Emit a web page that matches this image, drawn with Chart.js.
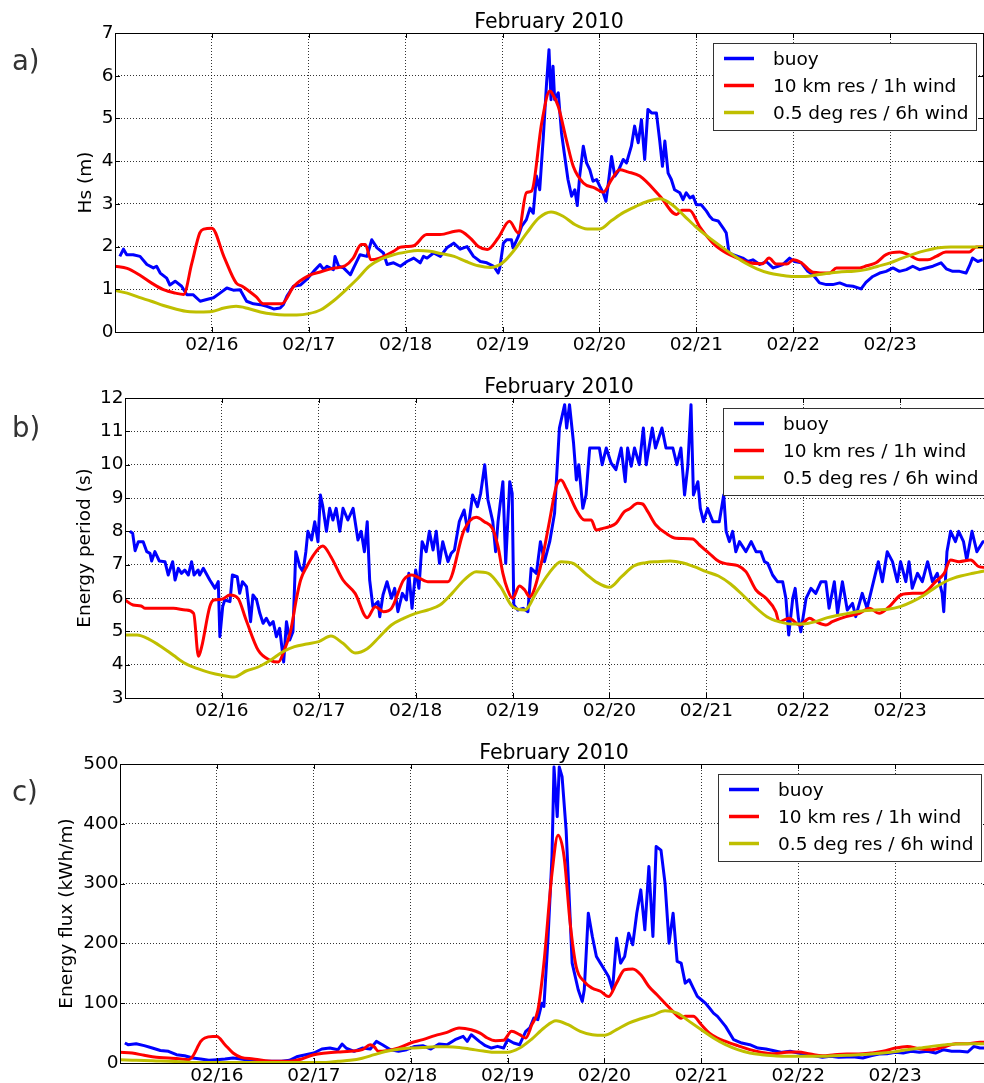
<!DOCTYPE html>
<html>
<head>
<meta charset="utf-8">
<script src="https://cdn.jsdelivr.net/npm/chart.js@4.4.1/dist/chart.umd.min.js"></script>
<style>
  body { margin: 0; background: #fff; width: 984px; height: 1083px; overflow: hidden; position: relative; }
  canvas { position: absolute; left: 0; }
</style>
</head>
<body>
<canvas id="chart-a"></canvas>
<canvas id="chart-b"></canvas>
<canvas id="chart-c"></canvas>
<script>
// x values are hours since 02/15 00:00 (February 2010)
const dayHours = [24, 48, 72, 96, 120, 144, 168, 192];
const dayLabels = ['02/16', '02/17', '02/18', '02/19', '02/20', '02/21', '02/22', '02/23'];
const seriesNames = ['buoy', '10 km res / 1h wind', '0.5 deg res / 6h wind'];
const seriesColors = ['#0000ff', '#ff0000', '#bfbf00'];

// the 0.5 deg model is read every 3 hours
const coarseHours = Array.from({length: 72}, (_, i) => i * 3).concat([215]);

// a) Hs (m)
const hsBuoy = [[1.2,1.77],[2.1,1.94],[2.9,1.81],[4.5,1.81],[6.2,1.77],[7.9,1.58],[9.5,1.5],[10.3,1.54],[11.2,1.38],[12.8,1.26],[13.6,1.1],[14.9,1.19],[16.5,1.07],[17.8,0.87],[19.4,0.87],[21.1,0.72],[22.7,0.76],[24.4,0.8],[26,0.91],[27.7,1.03],[29.3,0.98],[31,0.99],[32.6,0.72],[34.3,0.66],[36,0.64],[37.6,0.6],[39.3,0.54],[40.9,0.56],[41.7,0.64],[42.6,0.84],[44.2,1.07],[45.9,1.1],[47.5,1.23],[49.2,1.42],[50.8,1.58],[51.7,1.46],[52.5,1.54],[54.1,1.46],[54.5,1.77],[55.4,1.54],[56.6,1.5],[58.3,1.34],[59.1,1.5],[60.7,1.81],[62.4,1.77],[63.6,2.16],[64.9,1.97],[66.5,1.85],[67.4,1.58],[69,1.62],[70.7,1.54],[72.3,1.65],[74,1.73],[75.6,1.62],[76.4,1.77],[77.3,1.73],[78.9,1.85],[80.6,1.77],[82.2,1.97],[83.9,2.08],[85.5,1.94],[87.2,2.0],[88.8,1.77],[90.5,1.65],[92.1,1.62],[93.8,1.54],[94.9,1.38],[95.3,1.5],[96.2,2.08],[97,2.16],[98.2,2.16],[98.6,1.97],[99.9,2.24],[100.7,2.47],[101.9,2.63],[102.8,2.9],[103.6,2.78],[104.4,3.65],[105.2,3.33],[106.1,4.58],[106.9,5.83],[107.5,6.61],[108,5.44],[108.5,6.22],[108.9,5.44],[109.8,5.6],[110.6,4.66],[111.4,4.11],[112.2,3.57],[113.1,3.18],[113.9,3.33],[114.5,2.96],[115.1,3.65],[116,4.35],[116.8,3.96],[117.6,3.8],[118.4,3.53],[119.3,3.57],[120.1,3.41],[120.9,3.26],[121.6,3.06],[122.1,3.41],[123,4.11],[123.8,3.65],[124.6,3.76],[125.9,4.04],[126.7,3.96],[127.9,4.35],[128.7,4.82],[129.6,4.43],[130.4,4.97],[131.2,4.04],[132,5.21],[132.9,5.13],[134.1,5.13],[134.9,4.5],[135.6,3.88],[136.2,4.47],[137,3.72],[137.8,3.57],[138.6,3.33],[139.9,3.26],[140.7,3.1],[141.5,3.26],[142.4,3.14],[143.2,3.18],[144,2.98],[145.2,2.98],[146.5,2.83],[147.3,2.71],[148.1,2.63],[149.4,2.6],[150.6,2.44],[151.4,2.32],[152.1,1.85],[153.1,1.81],[154.3,1.77],[155.5,1.73],[156.8,1.65],[158,1.69],[159.7,1.58],[161.3,1.65],[163,1.5],[164.2,1.54],[165.4,1.58],[167.1,1.73],[168.3,1.65],[170,1.62],[171.6,1.42],[172.9,1.34],[174.5,1.15],[176.2,1.11],[177.8,1.11],[179.5,1.15],[181.1,1.09],[182.8,1.07],[184.8,1.01],[186,1.16],[187.7,1.3],[189.4,1.38],[191,1.42],[192.7,1.5],[194.3,1.42],[196,1.46],[197.6,1.54],[199.3,1.46],[200.9,1.5],[202.6,1.54],[204.6,1.62],[205.9,1.48],[207.5,1.42],[209.2,1.42],[210.8,1.38],[211.6,1.54],[212.4,1.73],[213.7,1.65],[214.9,1.69]];
const hsFine = [[0,1.54],[3,1.49],[6,1.34],[9,1.15],[12,0.99],[15,0.91],[17,0.88],[19,1.6],[21,2.32],[22,2.41],[24,2.43],[27,1.76],[30,1.15],[31.5,1.07],[33,0.97],[35,0.82],[36.7,0.66],[41.3,0.66],[44.3,1.07],[48,1.32],[51,1.41],[54,1.49],[57,1.55],[59,1.73],[61,2.05],[62,2.05],[63.4,1.69],[65.5,1.73],[69,1.89],[70.5,1.98],[72,2.0],[74,2.02],[77.2,2.28],[80.5,2.28],[85.2,2.37],[88,2.2],[90,2.0],[92.2,1.93],[94.9,2.2],[97.7,2.59],[99.9,2.32],[101.9,3.26],[103.2,3.3],[105.7,4.9],[107.7,5.64],[108.2,5.6],[109.8,5.28],[111.8,4.5],[113.5,3.88],[116,3.49],[118.9,3.37],[120.9,3.27],[123,3.57],[125,3.8],[127,3.75],[130,3.65],[135,3.18],[139.1,2.75],[140.4,2.85],[142.3,2.85],[144.8,2.47],[148.1,2.08],[151.4,1.85],[154.7,1.71],[157.1,1.62],[160.4,1.6],[162,1.73],[163.8,1.59],[166.4,1.59],[168,1.69],[170,1.62],[172.9,1.4],[177,1.38],[178.7,1.5],[184.5,1.5],[186.2,1.55],[188.5,1.62],[191,1.81],[194.4,1.87],[196.5,1.81],[199.3,1.69],[201.3,1.69],[203.4,1.77],[205.8,1.87],[211.6,1.87],[213.3,1.99],[215,1.99]];
const hsCoarse = [0.97,0.91,0.81,0.72,0.62,0.54,0.48,0.47,0.48,0.56,0.6,0.55,0.47,0.42,0.40,0.40,0.43,0.52,0.72,0.97,1.24,1.54,1.71,1.81,1.87,1.91,1.89,1.83,1.77,1.65,1.55,1.51,1.62,1.93,2.32,2.67,2.81,2.71,2.51,2.41,2.41,2.61,2.8,2.94,3.06,3.12,2.98,2.72,2.45,2.22,2.01,1.81,1.62,1.48,1.38,1.33,1.30,1.30,1.34,1.38,1.41,1.42,1.46,1.54,1.62,1.73,1.83,1.91,1.97,1.99,1.99,1.99,1.99];

// b) Energy period (s)
const teBuoy = [[1.2,8.0],[1.9,7.94],[2.5,7.42],[3.3,7.69],[4.5,7.69],[5.4,7.39],[6.2,7.34],[6.6,7.11],[7.4,7.39],[8.5,7.11],[9.9,7.09],[10.7,6.69],[11.8,7.09],[12.4,6.54],[13.2,6.89],[14,6.74],[14.8,6.84],[15.7,6.69],[16.5,7.09],[17.1,6.69],[18.1,6.84],[18.5,6.69],[19.4,6.89],[21,6.54],[22.3,6.29],[23.1,6.49],[23.5,4.84],[24.2,5.74],[24.7,5.94],[26,5.89],[26.6,6.69],[27.8,6.64],[28.4,6.14],[29.1,6.49],[30.1,6.34],[31.1,5.29],[31.7,6.09],[32.6,5.94],[33.4,5.54],[34.2,5.24],[35,5.39],[35.9,5.19],[36.7,5.29],[37.5,4.84],[38.3,5.09],[39.3,4.08],[40,5.29],[40.8,4.74],[41.6,4.99],[42.3,7.39],[43.3,6.94],[44.1,6.79],[44.8,7.39],[45.3,8.0],[46.2,7.74],[47,8.29],[47.8,7.69],[48.4,9.09],[49,8.74],[49.9,8.0],[50.7,8.69],[51.5,8.34],[52.3,8.69],[53.2,8.0],[54,8.69],[55.2,8.34],[56.5,8.69],[57.7,7.74],[58.5,8.0],[59.3,7.39],[60,8.29],[60.6,6.54],[61.4,5.74],[62.7,5.89],[63.1,5.44],[63.9,6.09],[64.9,6.49],[66,5.99],[66.8,6.29],[67.6,5.59],[68.7,6.14],[69.7,5.94],[70.3,6.74],[71.1,5.69],[72,6.84],[72.8,6.29],[73.6,7.69],[74.6,7.39],[75.4,8.0],[76.3,7.44],[77.1,8.0],[77.9,7.04],[78.7,7.69],[80,7.09],[80.8,7.34],[81.6,7.44],[82.8,8.29],[84,8.64],[84.9,8.0],[86.1,9.09],[87.3,8.74],[88.1,9.14],[89.1,10.0],[89.9,8.94],[91.1,8.29],[91.8,7.39],[92.4,8.29],[93.6,9.49],[94.3,7.04],[95.3,9.49],[95.9,9.14],[96.3,5.79],[97.3,5.64],[98.6,5.69],[99.8,5.59],[100.6,6.89],[101.9,6.74],[102.9,7.69],[103.9,7.09],[105.2,7.69],[106.4,8.54],[107.6,11.1],[108.9,11.8],[109.4,11.1],[110.1,11.8],[111.1,10.65],[111.8,9.54],[112.4,10.0],[113.4,8.69],[114.2,9.09],[115.1,10.5],[116.3,10.5],[117.5,10.5],[118.2,10.0],[119.2,10.5],[120.4,10.05],[121.6,9.85],[122.9,10.5],[123.9,9.49],[124.5,10.5],[125.4,9.95],[126.2,10.5],[127.4,10.0],[128.4,11.1],[129.1,10.0],[130.6,11.1],[131.4,10.5],[133,11.1],[134,10.5],[135.7,10.5],[136.7,10.0],[137.7,10.5],[138.6,9.09],[139.4,9.95],[140.2,11.8],[140.8,9.09],[141.9,9.49],[142.5,8.69],[143.3,8.29],[144.3,8.69],[145.6,8.29],[147.2,8.29],[148.3,9.09],[148.9,8.0],[149.7,7.69],[150.5,8.0],[151.3,7.39],[152.2,7.69],[153.8,7.39],[155.1,7.69],[156.3,7.39],[157.5,7.39],[158.4,7.09],[159.2,7.04],[160.4,6.69],[161.6,6.49],[162.9,6.49],[163.7,5.99],[164.4,4.89],[165.4,5.99],[166,6.29],[166.8,5.39],[167.4,4.99],[168.7,5.99],[169.9,6.29],[171.1,6.14],[172.4,6.49],[173.6,6.49],[174.4,5.69],[175.7,6.49],[176.5,5.54],[177.7,6.49],[178.9,5.64],[180.2,5.84],[181,5.44],[182.6,6.14],[183.8,5.69],[185.1,6.34],[186.6,7.09],[187.6,6.49],[188.8,7.39],[190.1,7.09],[191.3,6.49],[192.1,7.09],[193.4,6.49],[194.2,7.09],[195,6.29],[196.3,6.74],[197.5,6.49],[198.8,7.09],[200,6.49],[201.2,6.74],[202.4,6.14],[202.8,5.59],[203.6,7.39],[204.5,8.0],[205.7,7.69],[206.5,8.0],[207.7,7.69],[208.5,7.14],[209.8,8.0],[211,7.39],[212.5,7.69],[214,7.69],[215,7.5]];
const teFine = [[0,5.94],[2,5.79],[4,5.76],[5,5.69],[9,5.69],[12,5.69],[15,5.64],[17,5.54],[18.2,4.25],[19,4.54],[21,5.74],[22,5.94],[24,5.96],[26,6.09],[28,5.99],[30,5.34],[33,4.43],[36,4.13],[38,4.08],[39.5,4.45],[41,5.0],[42.5,6.0],[43.5,6.54],[45,6.94],[48,7.49],[49,7.56],[51,7.24],[54,6.54],[57,6.14],[60,5.41],[62,5.74],[64,5.59],[66,5.69],[69,6.54],[71,6.69],[75,6.49],[80,6.49],[84,8.04],[87,8.42],[89,8.29],[91,8.09],[92.4,7.54],[93.6,6.74],[94.8,6.24],[96,5.99],[97.7,6.36],[99,6.24],[100.2,6.04],[101,6.14],[103.1,7.04],[105.2,8.34],[106.8,9.34],[108,9.54],[109.3,9.29],[111.8,8.64],[113.8,8.34],[115.5,8.34],[116.7,8.04],[118.4,8.09],[120,8.14],[121.6,8.24],[123.7,8.59],[124.9,8.67],[127,8.84],[128.2,8.82],[129.5,8.59],[131.5,8.19],[134,7.94],[136.5,7.79],[140.6,7.77],[142.3,7.59],[144.7,7.34],[147.2,7.09],[149.3,7.02],[151.8,6.97],[153.8,6.79],[156.3,6.24],[158.8,5.99],[161.2,5.59],[162,5.29],[164.5,5.39],[167.1,5.19],[169.6,5.39],[171.1,5.29],[173.6,5.19],[175.2,5.29],[178.6,5.44],[181.9,5.54],[184.4,5.69],[186.8,5.54],[189.3,5.74],[192.2,6.09],[195.1,6.14],[197.5,6.14],[200.8,6.49],[202.9,6.74],[204.5,7.14],[206.6,7.09],[209.5,7.14],[211.5,6.94],[215,6.9]];
const teCoarse = [4.89,4.89,4.76,4.54,4.28,4.03,3.88,3.76,3.68,3.63,3.81,3.93,4.13,4.38,4.54,4.62,4.69,4.86,4.64,4.35,4.48,4.83,5.19,5.39,5.54,5.64,5.79,6.14,6.54,6.79,6.74,6.34,5.74,5.64,6.19,6.74,7.09,7.04,6.74,6.46,6.32,6.64,6.96,7.06,7.09,7.11,7.06,6.94,6.79,6.66,6.42,6.09,5.74,5.44,5.29,5.22,5.22,5.29,5.41,5.49,5.56,5.62,5.64,5.66,5.74,5.89,6.09,6.34,6.54,6.66,6.74,6.81,6.84];

// c) Energy flux (kWh/m)
const fluxBuoy = [[1.2,33.4],[2,30.6],[4,32.3],[6,29],[8,25],[10,21],[12,19.5],[14,13.9],[16,12.2],[18,8.4],[20,6.7],[22,4.5],[24,5.6],[26,6.7],[28,8.4],[30,6.7],[32,4.5],[36,2.8],[40,2.8],[42,4.5],[44,11],[46,13.9],[48,16.7],[50,23.4],[52,25],[54,22.3],[55,31.7],[56,25],[58,19.5],[60,25],[62,23.4],[63.5,36.2],[65,30.6],[67,22.3],[69,19.5],[71,22.3],[73,27.8],[75,29],[77,23.4],[79,31.7],[81,30.6],[83,39],[85,44.5],[86,36.2],[87,47.3],[89,36.2],[90.5,29],[92,25],[93.5,27.8],[95,25],[96,39],[97.5,33.4],[99,30.6],[100.5,52.9],[101.5,58.5],[102.5,75],[103.5,72.4],[104.5,100],[105,94.7],[106,206],[107,345],[107.5,495],[108.3,412],[108.8,495],[109.5,479],[110.5,390],[112,167],[113.5,122.5],[114.5,103],[115,122.5],[116,250.5],[117,211.6],[118,178],[119,167],[120,156],[121,144.8],[122,122.5],[123,208.8],[124,167],[125,178],[126,217],[127,197.7],[128,250.5],[129,289.5],[130,222.7],[131,328.5],[132,211.6],[132.8,361.9],[134,356],[135,300.7],[136,200.4],[137,250.5],[138,169.8],[139,167],[140,133.6],[141,139.2],[142,125.3],[143,111.4],[144,105.8],[145,100.2],[146,91.9],[147,83.5],[148,78],[150,61.2],[152,39],[154,33.4],[156,30.6],[158,25],[160,23.4],[162,20.6],[164,17.8],[166,19.5],[168,16.7],[170,13.9],[172,12.2],[174,9.5],[176,11.1],[178,9.5],[180,10],[182,10],[184,8.4],[186,12.2],[188,15],[190,15.6],[192,17.8],[194,16.7],[196,19.5],[198,17.8],[200,19.5],[202,16.7],[204,22.3],[206,19.5],[208,19.5],[210,18.4],[211.5,27.8],[213,25],[215,25]];
const fluxFine = [[0,17.8],[3,16.7],[6,12.8],[9,9.5],[12,8.4],[15,6.7],[17,5.6],[18,11],[20,36],[21,41.8],[23,44.5],[24,44.5],[26,30.6],[28,16.7],[30,9.5],[33,6.7],[36,3.9],[39,2.8],[42,2.8],[45,6.7],[48,13.9],[51,16.7],[54,18.4],[57,19.5],[60,22.3],[62,30.6],[63,26.7],[64,19.5],[66,20.6],[69,25],[72,33.4],[75,39],[78,45.7],[81,51.2],[84,58.5],[87,55.7],[89.2,50],[91,41.8],[93,37.3],[95,37.9],[97,52.9],[99,47.3],[100.5,41.8],[102,64],[103.5,88],[105,167],[107,317],[108.5,381],[110,345],[111.5,234],[113,161],[115,136],[117,125],[119,120],[121,111],[123,134],[125,156],[127,157],[129,147.5],[131,128],[133,114],[135,100],[137,86],[139,75],[140,78],[142,78],[144,64],[146,50],[148,41.8],[150,36.2],[153,29],[156,22.3],[159,17.8],[162,15.6],[165,17.8],[168,18.4],[171,15],[174,12.2],[177,13.9],[180,15],[183,15],[186,16.7],[189,19.5],[192,25],[195,27.8],[198,24],[201,22.3],[204,26.7],[207,32.3],[210,32.3],[213,34.5],[215,34.5]];
const fluxCoarse = [5.6,4.8,4,3.5,3,2,1,1,1,1,1,1,1,1,1,1,1,1,3,4.5,8,14,19.5,23,25,26,27,27,26,23,20,17.8,17.8,25,40,58.5,70.7,64,53,47.3,46.2,55.7,66.8,74,80,87.4,83.5,69.6,55.7,41.8,30.6,22.3,16.7,13.9,12.2,11.1,11.1,11.1,11.1,12.2,12.8,13.9,15,16.7,19,22.3,25,27.8,30,31.7,32.3,32.3,32.3];

const FONT = 'DejaVu Sans';

// frame round the plot area with inward ticks, like matplotlib
const frameTicks = {
  id: 'frameTicks',
  afterDatasetsDraw(chart) {
    const {ctx, chartArea: a, scales: {x, y}} = chart;
    ctx.save();
    ctx.strokeStyle = '#000';
    ctx.lineWidth = 1;
    ctx.strokeRect(Math.round(a.left) + 0.5, Math.round(a.top) + 0.5,
      Math.round(a.right) - Math.round(a.left), Math.round(a.bottom) - Math.round(a.top));
    ctx.beginPath();
    y.ticks.forEach(t => {
      const py = Math.round(y.getPixelForValue(t.value)) + 0.5;
      ctx.moveTo(a.left, py); ctx.lineTo(a.left + 5, py);
      ctx.moveTo(a.right - 5, py); ctx.lineTo(a.right, py);
    });
    x.ticks.forEach(t => {
      const px = Math.round(x.getPixelForValue(t.value)) + 0.5;
      ctx.moveTo(px, a.bottom); ctx.lineTo(px, a.bottom - 5);
      ctx.moveTo(px, a.top); ctx.lineTo(px, a.top + 5);
    });
    ctx.stroke();
    ctx.restore();
  }
};

// title, panel letter and boxed legend
const decorations = {
  id: 'decorations',
  afterDraw(chart, args, opts) {
    const {ctx, chartArea: a} = chart;
    ctx.save();
    ctx.fillStyle = '#000';
    ctx.font = '20.5px "' + FONT + '"';
    ctx.textAlign = 'center';
    ctx.textBaseline = 'alphabetic';
    ctx.fillText('February 2010', (a.left + a.right) / 2, a.top - 5.5);

    ctx.fillStyle = '#333';
    ctx.font = '27.5px "' + FONT + '"';
    ctx.textAlign = 'left';
    ctx.fillText(opts.letter, 12, opts.letterY);

    const w = 263, h = 87;
    const bx = Math.round(a.right - 7 - w), by = Math.round(a.top + 9.5);
    ctx.fillStyle = '#fff';
    ctx.fillRect(bx, by, w, h);
    ctx.strokeStyle = '#333';
    ctx.lineWidth = 1;
    ctx.strokeRect(bx + 0.5, by + 0.5, w, h);
    ctx.font = '18.5px "' + FONT + '"';
    [15.5, 42.5, 69.5].forEach((dy, i) => {
      const ds = chart.data.datasets[i];
      ctx.strokeStyle = ds.borderColor;
      ctx.lineWidth = 3.5;
      ctx.beginPath();
      ctx.moveTo(bx + 11, by + dy);
      ctx.lineTo(bx + 41, by + dy);
      ctx.stroke();
      ctx.fillStyle = '#000';
      ctx.fillText(ds.label, bx + 60, by + dy + 6.5);
    });
    ctx.restore();
  }
};

function toPoints(pairs) {
  return pairs.map(p => ({x: p[0], y: p[1]}));
}

function makePanel(id, p) {
  const canvas = document.getElementById(id);
  canvas.width = 1000;
  canvas.height = p.height;
  canvas.style.top = p.top + 'px';
  canvas.style.width = '1000px';
  canvas.style.height = p.height + 'px';

  const lineBase = {pointRadius: 0, borderWidth: 3, fill: false, borderJoinStyle: 'round'};
  const datasets = [
    Object.assign({}, lineBase, {label: seriesNames[0], data: toPoints(p.buoy), borderColor: seriesColors[0], tension: 0, order: 2}),
    Object.assign({}, lineBase, {label: seriesNames[1], data: toPoints(p.fine), borderColor: seriesColors[1], cubicInterpolationMode: 'monotone', order: 1}),
    Object.assign({}, lineBase, {label: seriesNames[2], data: coarseHours.map((hr, i) => ({x: hr, y: p.coarse[i]})), borderColor: seriesColors[2], cubicInterpolationMode: 'monotone', order: 0})
  ];

  return new Chart(canvas, {
    type: 'line',
    data: {datasets: datasets},
    options: {
      responsive: false,
      animation: false,
      devicePixelRatio: 1,
      events: [],
      layout: {padding: {left: 0, top: p.plot.top, right: 1000 - p.plot.right, bottom: 0}},
      scales: {
        x: {
          type: 'linear',
          min: 0,
          max: 215,
          afterBuildTicks: s => { s.ticks = dayHours.map(v => ({value: v})); },
          afterFit: s => { s.height = p.height - p.plot.bottom; },
          ticks: {
            autoSkip: false, maxRotation: 0, padding: 2, color: '#000',
            font: {family: FONT, size: 18.5},
            callback: v => dayLabels[dayHours.indexOf(v)]
          },
          grid: {color: 'rgba(0,0,0,0.8)', lineWidth: 1, drawTicks: false},
          border: {display: false, dash: [1, 2]}
        },
        y: {
          min: p.yMin,
          max: p.yMax,
          afterFit: s => { s.width = p.plot.left; },
          ticks: {stepSize: p.yStep, padding: 1.5, color: '#000', font: {family: FONT, size: 18.5}},
          grid: {color: 'rgba(0,0,0,0.8)', lineWidth: 1, drawTicks: false},
          border: {display: false, dash: [1, 2]},
          title: {display: true, text: p.yTitle, color: '#000', font: {family: FONT, size: 18.5}, padding: {top: p.titlePad, bottom: 0}}
        }
      },
      plugins: {
        legend: {display: false},
        tooltip: {enabled: false},
        decorations: {letter: p.letter, letterY: p.letterY}
      }
    },
    plugins: [frameTicks, decorations]
  });
}

makePanel('chart-a', {
  top: 0, height: 362, plot: {left: 115, top: 33, right: 983, bottom: 332},
  yMin: 0, yMax: 7, yStep: 1, yTitle: 'Hs (m)', titlePad: 75,
  letter: 'a)', letterY: 70,
  buoy: hsBuoy, fine: hsFine, coarse: hsCoarse
});
makePanel('chart-b', {
  top: 362, height: 361, plot: {left: 125, top: 36, right: 993, bottom: 336},
  yMin: 3, yMax: 12, yStep: 1, yTitle: 'Energy period (s)', titlePad: 74,
  letter: 'b)', letterY: 74.5,
  buoy: teBuoy, fine: teFine, coarse: teCoarse
});
makePanel('chart-c', {
  top: 723, height: 360, plot: {left: 120, top: 41, right: 988, bottom: 340},
  yMin: 0, yMax: 500, yStep: 100, yTitle: 'Energy flux (kWh/m)', titlePad: 56,
  letter: 'c)', letterY: 78,
  buoy: fluxBuoy, fine: fluxFine, coarse: fluxCoarse
});
</script>
</body>
</html>
